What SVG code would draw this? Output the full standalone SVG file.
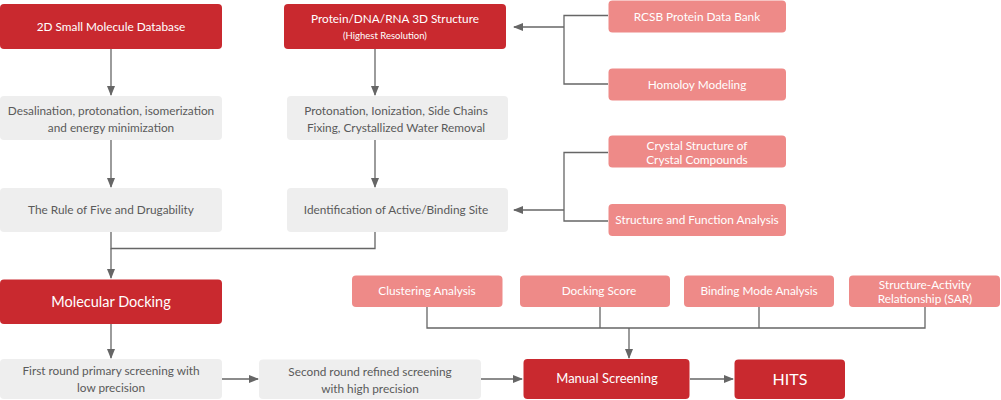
<svg xmlns="http://www.w3.org/2000/svg" width="1001" height="400" viewBox="0 0 1001 400">
<defs>
<marker id="arr" markerWidth="10" markerHeight="8" refX="9" refY="4" orient="auto" markerUnits="userSpaceOnUse">
<path d="M0,0 L10,4 L0,8 z" fill="#666"/>
</marker>
<style>
.red{fill:#C9292F}
.pink{fill:#EE8A88}
.grey{fill:#EEEEEE}
text{font-family:Lato,"Open Sans","Liberation Sans",sans-serif;text-anchor:middle}
.wt{fill:#fff;font-size:11.8px}
.gt{fill:#5a5a5a;font-size:11.8px}
.big{fill:#fff;font-size:16px}
.sm{fill:#fff;font-size:9.5px}
.ln{fill:none;stroke:#666;stroke-width:1.3}
</style>
</defs>
<rect width="1001" height="400" fill="#fff"/>
<g id="connectors">
<path class="ln" d="M111,49 V95" marker-end="url(#arr)"/>
<path class="ln" d="M375,49 V95" marker-end="url(#arr)"/>
<path class="ln" d="M111,140 V187" marker-end="url(#arr)"/>
<path class="ln" d="M375,140 V187" marker-end="url(#arr)"/>
<path class="ln" d="M608,15.5 H564 V84 H608"/>
<path class="ln" d="M564,27 H514" marker-end="url(#arr)"/>
<path class="ln" d="M608,152.5 H564 V221 H608"/>
<path class="ln" d="M564,210 H514" marker-end="url(#arr)"/>
<path class="ln" d="M111,232 V248.5 H375 V232"/>
<path class="ln" d="M111,248.5 V278" marker-end="url(#arr)"/>
<path class="ln" d="M111,324 V358" marker-end="url(#arr)"/>
<path class="ln" d="M222,379 H258" marker-end="url(#arr)"/>
<path class="ln" d="M481,379 H522" marker-end="url(#arr)"/>
<path class="ln" d="M690,379 H733" marker-end="url(#arr)"/>
<path class="ln" d="M427,307 V328 H925 V307 M600,307 V328 M759,307 V328"/>
<path class="ln" d="M629,328 V358" marker-end="url(#arr)"/>
</g>
<g id="n-2d">
<rect class="red" x="0" y="4" width="222" height="45" rx="4"/>
<text class="wt" x="111" y="30.5">2D Small Molecule Database</text>
</g>
<g id="n-protein">
<rect class="red" x="284" y="4" width="222" height="45" rx="4"/>
<text class="wt" x="395" y="23">Protein/DNA/RNA 3D Structure</text>
<text class="sm" x="385" y="39">(Highest Resolution)</text>
</g>
<g id="n-rcsb">
<rect class="pink" x="608.5" y="0.5" width="177.5" height="32" rx="4"/>
<text class="wt" x="697" y="20.5">RCSB Protein Data Bank</text>
</g>
<g id="n-homology">
<rect class="pink" x="608.5" y="68.5" width="177.5" height="32" rx="4"/>
<text class="wt" x="697" y="88.5">Homoloy Modeling</text>
</g>
<g id="n-desal">
<rect class="grey" x="0" y="96" width="222" height="44" rx="4"/>
<text class="gt" x="111" y="115">Desalination, protonation, isomerization</text>
<text class="gt" x="111" y="132">and energy minimization</text>
</g>
<g id="n-proton">
<rect class="grey" x="287" y="96" width="221" height="44" rx="4"/>
<text class="gt" x="396" y="115">Protonation, Ionization, Side Chains</text>
<text class="gt" x="396" y="132">Fixing, Crystallized Water Removal</text>
</g>
<g id="n-crystal">
<rect class="pink" x="608.5" y="135.5" width="177.5" height="32" rx="4"/>
<text class="wt" x="697" y="149.5">Crystal Structure of</text>
<text class="wt" x="697" y="163.5">Crystal Compounds</text>
</g>
<g id="n-sfa">
<rect class="pink" x="608.5" y="204" width="177.5" height="32" rx="4"/>
<text class="wt" x="697" y="223.5">Structure and Function Analysis</text>
</g>
<g id="n-rule5">
<rect class="grey" x="0" y="188" width="222" height="44" rx="4"/>
<text class="gt" x="111" y="213.5">The Rule of Five and Drugability</text>
</g>
<g id="n-ident">
<rect class="grey" x="287" y="188" width="221" height="44" rx="4"/>
<text class="gt" x="396" y="213.5">Identification of Active/Binding Site</text>
</g>
<g id="n-docking">
<rect class="red" x="0" y="279.5" width="222" height="44.5" rx="4"/>
<text class="big" x="111" y="306.5" style="font-size:14.5px">Molecular Docking</text>
</g>
<g id="n-cluster">
<rect class="pink" x="352" y="275.5" width="150.5" height="31.5" rx="4"/>
<text class="wt" x="427" y="294.5">Clustering Analysis</text>
</g>
<g id="n-score">
<rect class="pink" x="520" y="275.5" width="150" height="31.5" rx="4"/>
<text class="wt" x="599" y="294.5">Docking Score</text>
</g>
<g id="n-binding">
<rect class="pink" x="684" y="275.5" width="150" height="31.5" rx="4"/>
<text class="wt" x="759" y="294.5">Binding Mode Analysis</text>
</g>
<g id="n-sar">
<rect class="pink" x="849" y="275.5" width="151" height="31.5" rx="4"/>
<text class="wt" x="925" y="289">Structure-Activity</text>
<text class="wt" x="925" y="303">Relationship (SAR)</text>
</g>
<g id="n-first">
<rect class="grey" x="0" y="359" width="222" height="40" rx="4"/>
<text class="gt" x="111" y="374.5">First round primary screening with</text>
<text class="gt" x="111" y="391.5">low precision</text>
</g>
<g id="n-second">
<rect class="grey" x="259" y="359.5" width="222" height="39.5" rx="4"/>
<text class="gt" x="370" y="375.5">Second round refined screening</text>
<text class="gt" x="370" y="392.5">with high precision</text>
</g>
<g id="n-manual">
<rect class="red" x="523.5" y="359" width="166" height="40" rx="4"/>
<text class="wt" x="607" y="382.5" style="font-size:13px">Manual Screening</text>
</g>
<g id="n-hits">
<rect class="red" x="734.5" y="359.5" width="110.5" height="39.5" rx="4"/>
<text class="big" x="790" y="385">HITS</text>
</g>
</svg>
